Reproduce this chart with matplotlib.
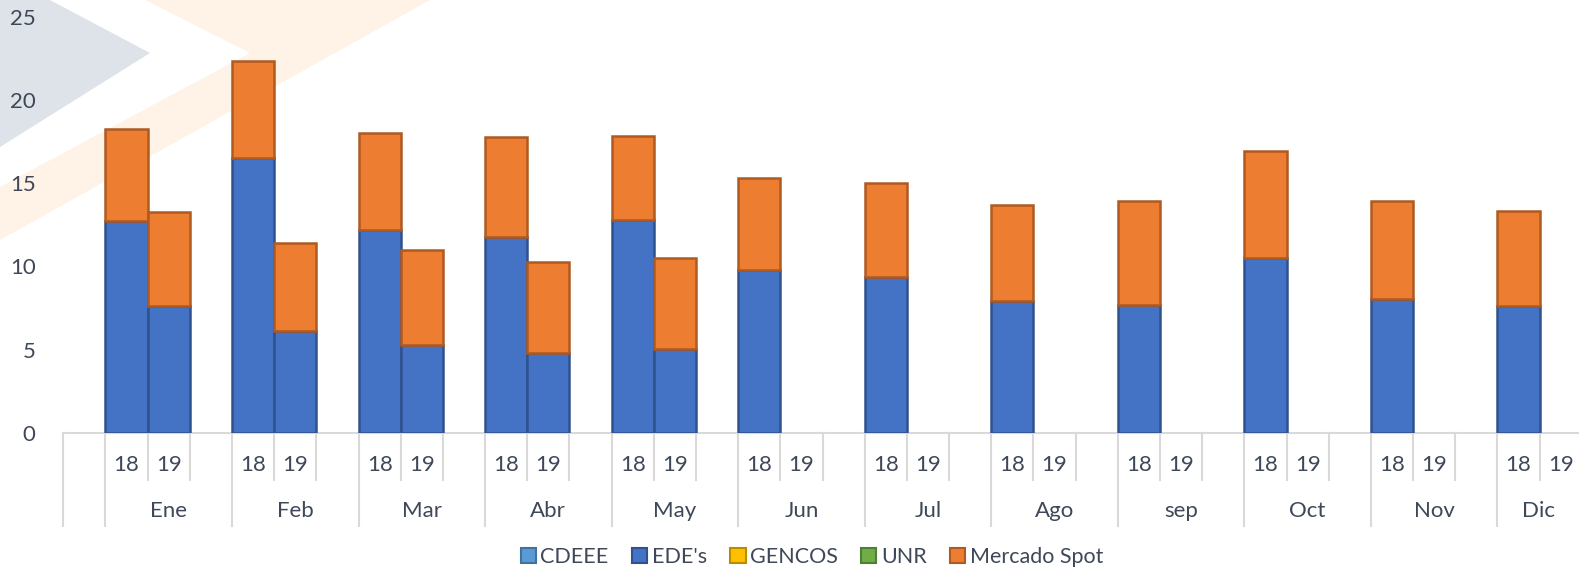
import numpy as np
import matplotlib
matplotlib.use("Agg")
from matplotlib import pyplot as plt
from matplotlib.patches import Polygon, Patch

plt.rcParams['font.family'] = ['Lato', 'DejaVu Sans']

# data
months = ['Ene', 'Feb', 'Mar', 'Abr', 'May', 'Jun', 'Jul', 'Ago', 'sep', 'Oct', 'Nov', 'Dic']
years = ['18', '19']
edes_18 = [12.71, 16.53, 12.17, 11.80, 12.77, 9.81, 9.38, 7.93, 7.69, 10.53, 8.05, 7.63]
spot_18 = [5.57, 5.81, 5.87, 6.00, 5.09, 5.50, 5.63, 5.75, 6.23, 6.42, 5.87, 5.69]
edes_19 = [7.63, 6.11, 5.27, 4.78, 5.02, 0, 0, 0, 0, 0, 0, 0]
spot_19 = [5.63, 5.33, 5.69, 5.51, 5.51, 0, 0, 0, 0, 0, 0, 0]
zeros = [0] * 12
cdeee_18, cdeee_19 = zeros, zeros
gencos_18, gencos_19 = zeros, zeros
unr_18, unr_19 = zeros, zeros

series = ['CDEEE', "EDE's", 'GENCOS', 'UNR', 'Mercado Spot']
fills = ['#5B9BD5', '#4472C4', '#FFC000', '#70AD47', '#ED7D31']
edges = ['#41719C', '#2F528F', '#BC8C00', '#507E32', '#AE5A21']
vals_18 = [cdeee_18, edes_18, gencos_18, unr_18, spot_18]
vals_19 = [cdeee_19, edes_19, gencos_19, unr_19, spot_19]

txt = '#3E4858'
fs = 16
W, H = 1579, 573
fig = plt.figure(figsize=(W / 100, H / 100), dpi=100)

# faint watermark in the background
def px(pts):
    return [(x / W, 1 - y / H) for x, y in pts]

fig.patches.append(Polygon(px([(0, 0), (50, 0), (150, 53), (0, 147)]), closed=True,
                           transform=fig.transFigure, facecolor='#DEE2E9', edgecolor='none', zorder=0))
fig.patches.append(Polygon(px([(145, 0), (430, 0), (0, 240), (0, 187), (250, 53)]), closed=True,
                           transform=fig.transFigure, facecolor='#FEF3E6', edgecolor='none', zorder=0))

x0, y_ax, y_top = 63.3, 433, 16.7
ax = fig.add_axes([x0 / W, (H - y_ax) / H, (W - x0) / W, (y_ax - y_top) / H])
ax.set_zorder(2)
ax.patch.set_alpha(0)
slot = 42.18
xmax = (W - x0) / slot

# slot 0 is an empty leading category, each month has 3 slots (18, 19, blank)
start = 1 + 3 * np.arange(12)
for off, vals in [(0, vals_18), (1, vals_19)]:
    bottom = np.zeros(12)
    for name, v, fc, ec in zip(series, vals, fills, edges):
        v = np.array(v, dtype=float)
        lw = [1.8 if h > 0 else 0 for h in v]
        ax.bar(start + off + 0.5, v, width=1.0, bottom=bottom, color=fc,
               edgecolor=ec, linewidth=lw, zorder=3)
        bottom += v

ax.set_xlim(0, xmax)
ax.set_ylim(0, 25)
ax.set_yticks([0, 5, 10, 15, 20, 25])
ax.tick_params(axis='y', length=0, pad=20, labelsize=fs, labelcolor=txt)
ax.set_xticks([])
for s in ['top', 'right', 'left']:
    ax.spines[s].set_visible(False)
ax.spines['bottom'].set_color('#D9D9D9')
ax.spines['bottom'].set_linewidth(1.5)

# two tier category axis
hpx = y_ax - y_top
tr = ax.get_xaxis_transform()
short = -(480 - y_ax) / hpx
long_ = -(526 - y_ax) / hpx
y_year = -(465 - y_ax) / hpx
y_month = -(511 - y_ax) / hpx
line_kw = dict(color='#D9D9D9', lw=1.5, transform=tr, clip_on=False)
ax.plot([0, 0], [0, long_], **line_kw)
for k, s in enumerate(start):
    ax.plot([s, s], [0, long_], **line_kw)
    for j in (1, 2):
        if s + j < xmax:
            ax.plot([s + j, s + j], [0, short], **line_kw)
    for j, yr in enumerate(years):
        ax.text(s + j + 0.5, y_year, yr, transform=tr, ha='center', va='center',
                fontsize=fs, color=txt)
    end = min(s + 3, xmax)
    ax.text((s + end) / 2, y_month, months[k], transform=tr, ha='center', va='center',
            fontsize=fs, color=txt)

handles = [Patch(facecolor=fc, edgecolor=ec, linewidth=1.5) for fc, ec in zip(fills, edges)]
fig.legend(handles, series, loc='center', bbox_to_anchor=(812 / W, 1 - 557 / H), ncol=5,
           frameon=False, fontsize=15.5, labelcolor=txt, handlelength=0.7, handleheight=0.7,
           handletextpad=0.2, columnspacing=1.1)

fig.savefig('out.png', dpi=100)
